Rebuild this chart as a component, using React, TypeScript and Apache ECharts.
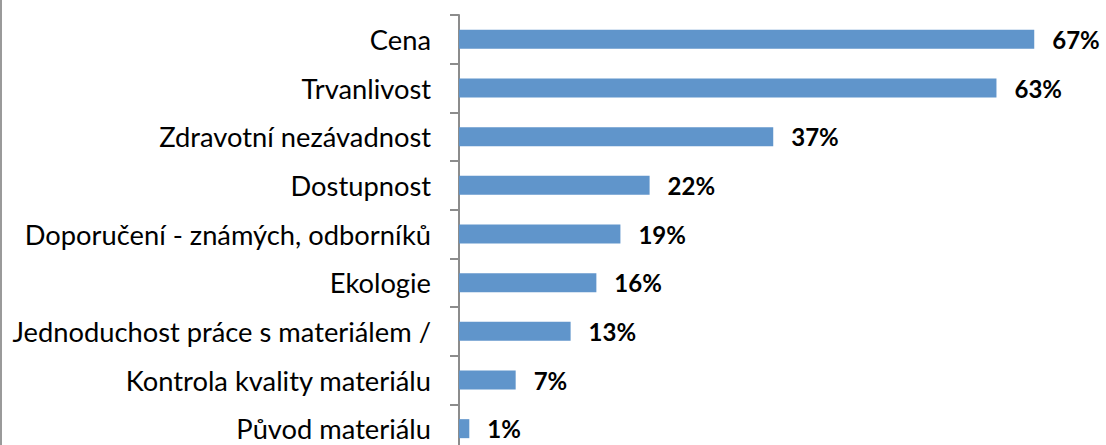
import React, { useEffect, useRef } from "react";
import * as echarts from "echarts";

const categories = [
  "Cena",
  "Trvanlivost",
  "Zdravotní nezávadnost",
  "Dostupnost",
  "Doporučení - známých, odborníků",
  "Ekologie",
  "Jednoduchost práce s materiálem /",
  "Kontrola kvality materiálu",
  "Původ materiálu",
];
const values = [67.0, 62.6, 36.6, 22.2, 18.8, 16.0, 13.0, 6.6, 1.2];

export default function App() {
  const ref = useRef<HTMLDivElement>(null);
  useEffect(() => {
    if (!ref.current) return;
    const chart = echarts.init(ref.current, null, { renderer: "svg" });
    chart.setOption({
      animation: false,
      backgroundColor: "#ffffff",
      grid: { left: 459, right: 46, top: 15, bottom: 7 },
      xAxis: { type: "value", min: 0, max: 70, show: false },
      yAxis: {
        type: "category",
        data: categories,
        inverse: true,
        axisLine: { show: true, lineStyle: { color: "#8c8c8c", width: 2 } },
        axisTick: { show: true, length: 9, lineStyle: { color: "#8c8c8c", width: 2 } },
        axisLabel: {
          margin: 28,
          color: "#000000",
          fontFamily: "Lato",
          fontSize: 27.3,
        },
        splitLine: { show: false },
      },
      series: [
        {
          type: "bar",
          data: values,
          barWidth: 19,
          itemStyle: { color: "#6095CB" },
          label: {
            show: true,
            position: "right",
            distance: 18,
            color: "#000000",
            fontWeight: "bold",
            fontFamily: "Lato",
            fontSize: 24,
            formatter: (p: any) => Math.round(p.value) + "%",
          },
        },
      ],
      graphic: [
        {
          type: "line",
          shape: { x1: 1, y1: 0, x2: 1, y2: 445 },
          style: { stroke: "#9a9a9a", lineWidth: 2 },
        },
      ],
    });
    return () => chart.dispose();
  }, []);
  return (
    <div
      ref={ref}
      style={{ position: "absolute", left: 0, top: 0, width: 1106, height: 460 }}
    />
  );
}
